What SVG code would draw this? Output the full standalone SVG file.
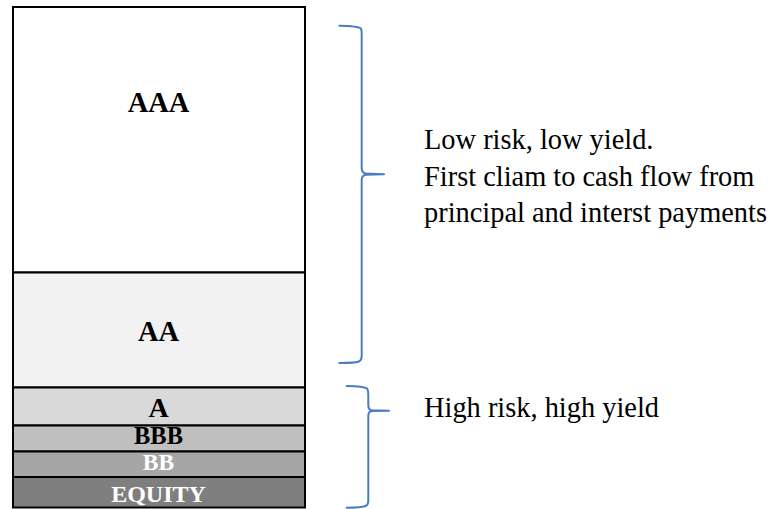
<svg xmlns="http://www.w3.org/2000/svg" width="773" height="509" viewBox="0 0 773 509">
  <style>
    .tier { stroke: #000; stroke-width: 2; }
    .lbl { font-family: "Liberation Serif", "Times New Roman", serif; font-weight: bold; text-anchor: middle; }
    .note { font-family: "Liberation Serif", "Times New Roman", serif; font-size: 28.4px; fill: #000; }
    .brace { fill: none; stroke: #4a7cc4; stroke-width: 2; stroke-linecap: round; stroke-linejoin: round; }
  </style>
  <rect width="773" height="509" fill="#fff"/>

  <!-- Tranche stack, senior on top -->
  <g id="aaa">
    <rect class="tier" x="13" y="7" width="292" height="265.5" fill="#ffffff"/>
    <text class="lbl" x="158.5" y="112" font-size="28.5" fill="#000">AAA</text>
  </g>
  <g id="aa">
    <rect class="tier" x="13" y="272.5" width="292" height="115" fill="#f2f2f2"/>
    <text class="lbl" x="158.5" y="340.7" font-size="28.5" fill="#000">AA</text>
  </g>
  <g id="a">
    <rect class="tier" x="13" y="387.5" width="292" height="38" fill="#d9d9d9"/>
    <text class="lbl" x="158.5" y="416.7" font-size="28" fill="#000">A</text>
  </g>
  <g id="bbb">
    <rect class="tier" x="13" y="425.5" width="292" height="26" fill="#bfbfbf"/>
    <text class="lbl" x="158.5" y="443.5" font-size="24.5" fill="#000">BBB</text>
  </g>
  <g id="bb">
    <rect class="tier" x="13" y="451.5" width="292" height="25.5" fill="#a6a6a6"/>
    <text class="lbl" x="158.5" y="470" font-size="23.5" fill="#fff">BB</text>
  </g>
  <g id="equity">
    <rect class="tier" x="13" y="477" width="292" height="30.5" fill="#7f7f7f"/>
    <text class="lbl" x="158.5" y="502" font-size="24" fill="#fff">EQUITY</text>
  </g>

  <!-- Curly braces grouping the tranches -->
  <g id="connectors">
    <path class="brace" d="M339.3,25.7 Q358,26 361,28.5 Q361.7,30 361.7,34 L361.7,168 Q361.7,173 366,173.6 L384,174.2 L366,174.8 Q361.7,175.5 361.7,180 L361.7,356 Q361.7,360 359,361.5 Q355,363 339.3,363"/>
    <path class="brace" d="M346.7,386 Q364,386.3 367,388.5 Q368.3,390 368.3,394 L368.3,405 Q368.3,410 372,410.3 L389,410.7 L372,411.1 Q368.3,411.5 368.3,416 L368.3,501 Q368.3,505 365.5,506 Q361,507.7 346.7,507.7"/>
  </g>

  <!-- Annotations -->
  <g id="senior-note">
    <text class="note" x="424" y="149">Low risk, low yield.</text>
    <text class="note" x="424" y="186">First cliam to cash flow from</text>
    <text class="note" x="424" y="222">principal and interst payments</text>
  </g>
  <g id="junior-note">
    <text class="note" x="424" y="416.7">High risk, high yield</text>
  </g>
</svg>
